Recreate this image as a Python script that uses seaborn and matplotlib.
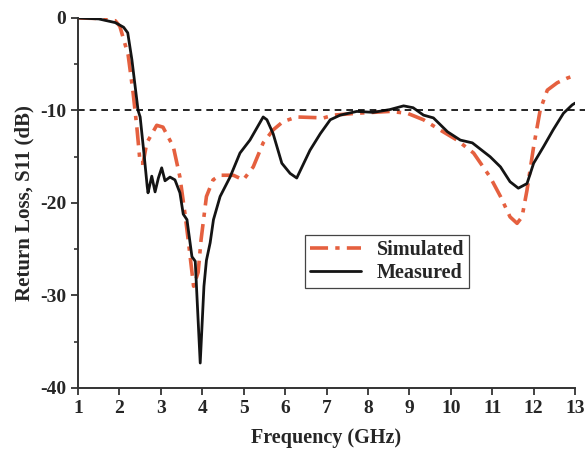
import matplotlib
matplotlib.use("Agg")
import matplotlib.pyplot as plt
import pandas as pd
import seaborn as sns

# Measured S11
meas_f = [1.0, 1.5, 1.9, 2.1, 2.2, 2.3, 2.45, 2.5, 2.6, 2.67, 2.69, 2.78, 2.86, 2.94, 3.02,
          3.1, 3.22, 3.34, 3.46, 3.54, 3.63, 3.75, 3.83, 3.95, 4.04, 4.1, 4.19, 4.27,
          4.43, 4.67, 4.91, 5.15, 5.47, 5.56, 5.71, 5.92, 6.12, 6.28, 6.6, 6.85, 7.09,
          7.33, 7.73, 8.13, 8.53, 8.86, 9.09, 9.34, 9.58, 9.92, 10.23, 10.52, 10.95,
          11.2, 11.43, 11.63, 11.84, 12.0, 12.24, 12.47, 12.72, 12.93, 13.0]
meas_db = [0.0, -0.1, -0.5, -1.0, -1.6, -4.5, -10.0, -10.7, -15.0, -18.2, -18.9, -17.1, -18.8,
           -17.3, -16.2, -17.6, -17.2, -17.5, -18.9, -21.2, -21.8, -25.8, -26.3, -37.3,
           -29.0, -26.2, -24.3, -21.8, -19.3, -17.2, -14.6, -13.2, -10.7, -11.0, -12.5,
           -15.7, -16.8, -17.3, -14.3, -12.5, -11.0, -10.5, -10.1, -10.2, -9.9, -9.5,
           -9.7, -10.5, -10.8, -12.3, -13.2, -13.5, -15.0, -16.1, -17.7, -18.4, -17.9,
           -15.7, -13.9, -12.1, -10.3, -9.4, -9.2]

# Simulated S11
sim_f = [1.0, 1.5, 1.9, 2.01, 2.21, 2.33, 2.42, 2.5, 2.57, 2.66, 2.9, 3.05, 3.3, 3.46,
         3.58, 3.66, 3.79, 3.9, 3.97, 4.1, 4.26, 4.43, 4.75, 4.99, 5.23, 5.47, 5.71,
         5.95, 6.28, 6.93, 7.17, 7.73, 8.53, 8.95, 9.34, 9.74, 10.15, 10.55, 10.95,
         11.2, 11.43, 11.6, 11.72, 11.84, 12.0, 12.16, 12.33, 12.57, 12.81, 13.0]
sim_db = [0.0, -0.05, -0.3, -0.9, -4.0, -8.1, -11.8, -15.7, -15.7, -13.5, -11.6, -11.8,
          -13.9, -17.2, -21.1, -24.0, -29.0, -27.5, -24.0, -19.3, -17.5, -17.0, -17.0,
          -17.5, -16.1, -13.5, -12.1, -11.2, -10.7, -10.8, -10.5, -10.3, -10.1, -10.3,
          -11.0, -12.1, -13.2, -14.6, -17.2, -19.3, -21.5, -22.2, -21.5, -18.6, -13.9,
          -9.9, -7.8, -7.0, -6.5, -6.2]

sns.set_style("ticks")
plt.rcParams["font.family"] = ["Liberation Serif", "DejaVu Serif"]
plt.rcParams["font.weight"] = "bold"
plt.rcParams["axes.unicode_minus"] = False

sim = pd.DataFrame({"f": sim_f, "s11": sim_db})
meas = pd.DataFrame({"f": meas_f, "s11": meas_db})

fig = plt.figure(figsize=(5.88, 4.59), dpi=100)
ax = fig.add_axes([0.1327, 0.1547, 0.8453, 0.8061])

sns.lineplot(data=sim, x="f", y="s11", ax=ax, color="#e5603f", lw=2.6,
             linestyle=(0, (5, 2, 1.2, 2)), label="Simulated", sort=False, estimator=None)
sns.lineplot(data=meas, x="f", y="s11", ax=ax, color="#141414", lw=2.0,
             label="Measured", sort=False, estimator=None)

# -10 dB reference line
ax.plot([1, 13.25], [-10, -10], color="black", lw=1.2, linestyle=(0, (4, 3)), clip_on=False)

ax.set_xlim(1, 13)
ax.set_ylim(-40, 0)
ax.set_xticks(range(1, 14))
ax.set_yticks([0, -10, -20, -30, -40])
ax.set_yticks([-5, -15, -25, -35], minor=True)
ax.tick_params(axis="both", which="major", direction="out", length=5, width=1.3,
               labelsize=14, color="#333333")
ax.tick_params(axis="y", which="minor", direction="out", length=3, width=1.2, color="#333333")
for lab in ax.get_xticklabels() + ax.get_yticklabels():
    lab.set_fontweight("bold")

sns.despine(ax=ax)
for side in ["left", "bottom"]:
    ax.spines[side].set_linewidth(1.4)
    ax.spines[side].set_color("#333333")

ax.set_xlabel("Frequency (GHz)", fontsize=14.5, fontweight="bold", labelpad=8)
ax.set_ylabel("Return Loss, S11 (dB)", fontsize=15, fontweight="bold", labelpad=4)

leg = ax.legend(loc="upper left", bbox_to_anchor=(0.457, 0.413), borderaxespad=0,
                fancybox=False, framealpha=1, edgecolor="#444444", handlelength=2.5,
                borderpad=0.25, labelspacing=0.15, prop={"weight": "bold", "size": 14.5})
leg.get_frame().set_linewidth(0.9)

fig.savefig("out.png", dpi=100)
